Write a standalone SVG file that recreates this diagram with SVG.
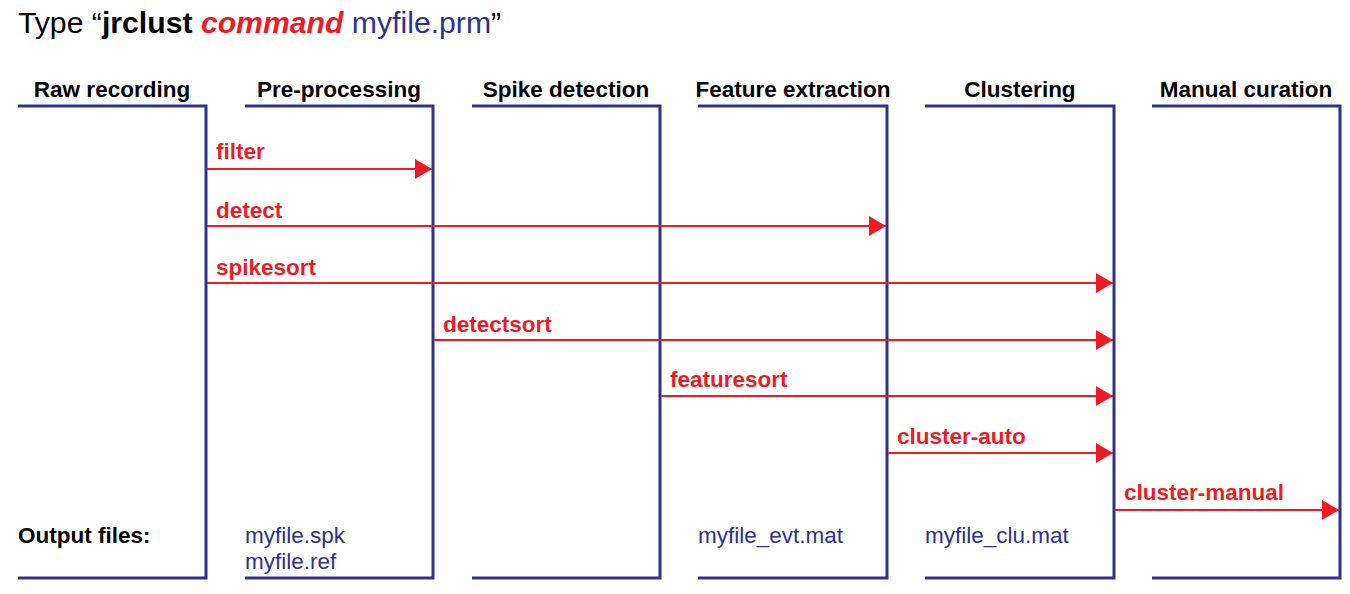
<svg xmlns="http://www.w3.org/2000/svg" width="1350" height="594" viewBox="0 0 1350 594">
<style>
text{font-family:"Liberation Sans",Arial,sans-serif}
.col{fill:none;stroke:#2e3192;stroke-width:3}
.hdr{font-size:22.5px;font-weight:bold;fill:#000;text-anchor:middle}
.lbl{font-size:22.5px;font-weight:bold;fill:#ed1c24}
.out{font-size:22.5px;fill:#2e3192}
.arr{stroke:#ed1c24;stroke-width:2;fill:none;marker-end:url(#ah)}
</style>
<defs>
<marker id="ah" markerUnits="userSpaceOnUse" markerWidth="17" markerHeight="20" refX="17" refY="10" orient="auto">
<path d="M0,0 L17,10 L0,20 Z" fill="#ed1c24"/>
</marker>
</defs>
<rect width="1350" height="594" fill="#fff"/>
<text x="18" y="33" font-size="30.2"><tspan fill="#000">Type “</tspan><tspan font-weight="bold" fill="#000">jrclust</tspan> <tspan font-weight="bold" font-style="italic" fill="#ed1c24">command</tspan> <tspan fill="#2e3192">myfile.prm</tspan><tspan fill="#000">”</tspan></text>
<g id="raw"><text class="hdr" x="112" y="97">Raw recording</text><path class="col" d="M18,106 H206 V578 H18"/></g>
<g id="pre"><text class="hdr" x="339" y="97">Pre-processing</text><path class="col" d="M245,106 H433 V578 H245"/></g>
<g id="spike"><text class="hdr" x="566" y="97">Spike detection</text><path class="col" d="M472,106 H660 V578 H472"/></g>
<g id="feat"><text class="hdr" x="793" y="97">Feature extraction</text><path class="col" d="M698,106 H887 V578 H698"/></g>
<g id="clus"><text class="hdr" x="1020" y="97">Clustering</text><path class="col" d="M925,106 H1114 V578 H925"/></g>
<g id="man"><text class="hdr" x="1246" y="97">Manual curation</text><path class="col" d="M1152,106 H1340 V578 H1152"/></g>
<g id="outputs">
<text x="18" y="543" font-size="22.5" font-weight="bold" fill="#000">Output files:</text>
<text class="out" x="245" y="543">myfile.spk</text>
<text class="out" x="245" y="569">myfile.ref</text>
<text class="out" x="698" y="543">myfile_evt.mat</text>
<text class="out" x="925" y="543">myfile_clu.mat</text>
</g>
<g id="connectors">
<line class="arr" x1="207" y1="169" x2="432" y2="169"/><text class="lbl" x="216" y="159">filter</text>
<line class="arr" x1="207" y1="226" x2="886" y2="226"/><text class="lbl" x="216" y="218">detect</text>
<line class="arr" x1="207" y1="283" x2="1113" y2="283"/><text class="lbl" x="216" y="275">spikesort</text>
<line class="arr" x1="434" y1="340" x2="1113" y2="340"/><text class="lbl" x="443" y="332">detectsort</text>
<line class="arr" x1="661" y1="396" x2="1113" y2="396"/><text class="lbl" x="670" y="387">featuresort</text>
<line class="arr" x1="888" y1="453" x2="1113" y2="453"/><text class="lbl" x="897" y="444">cluster-auto</text>
<line class="arr" x1="1115" y1="510" x2="1339" y2="510"/><text class="lbl" x="1124" y="500">cluster-manual</text>
</g>
</svg>
